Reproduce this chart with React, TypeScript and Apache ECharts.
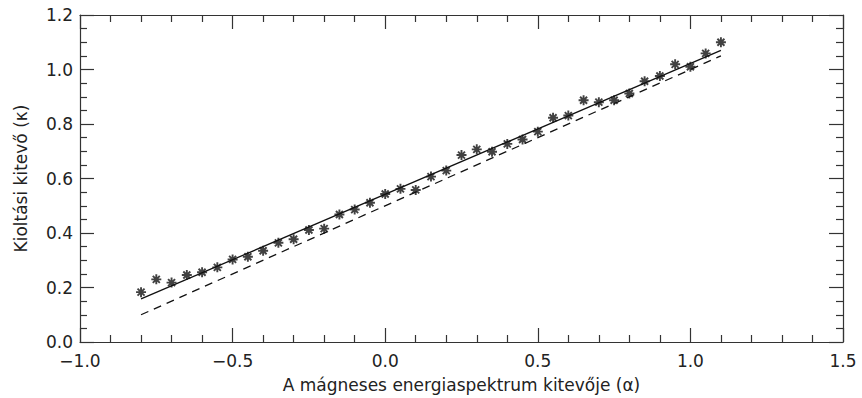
import React, { useEffect, useRef } from "react";
import * as echarts from "echarts";

const alphaValues = [
  -0.8, -0.75, -0.7, -0.65, -0.6, -0.55, -0.5, -0.45, -0.4, -0.35, -0.3, -0.25, -0.2,
  -0.15, -0.1, -0.05, 0.0, 0.05, 0.1, 0.15, 0.2, 0.25, 0.3, 0.35, 0.4, 0.45, 0.5,
  0.55, 0.6, 0.65, 0.7, 0.75, 0.8, 0.85, 0.9, 0.95, 1.0, 1.05, 1.1,
];
const kappaValues = [
  0.183, 0.23, 0.218, 0.246, 0.256, 0.274, 0.303, 0.313, 0.335, 0.364, 0.377, 0.411, 0.416,
  0.468, 0.486, 0.511, 0.543, 0.562, 0.558, 0.607, 0.629, 0.686, 0.707, 0.698, 0.727, 0.743, 0.772,
  0.823, 0.831, 0.887, 0.88, 0.887, 0.912, 0.957, 0.976, 1.019, 1.01, 1.059, 1.1,
];
const fitLineX = [-0.8, 1.1];
const fitLineY = [0.158, 1.07];
const theoryLineX = [-0.8, 1.1];
const theoryLineY = [0.1, 1.05];

const xTitle = "A mágneses energiaspektrum kitevője (α)";
const yTitle = "Kioltási kitevő (κ)";

const FONT = "DejaVu Sans";
const TEXT = "#222";
const AX = "#333";

const starPath =
  "path://M5,0L5,10M0,5L10,5M1.5,1.5L8.5,8.5M1.5,8.5L8.5,1.5";

export default function App() {
  const ref = useRef<HTMLDivElement>(null);
  useEffect(() => {
    if (!ref.current) return;
    const chart = echarts.init(ref.current, undefined, { renderer: "svg" });
    const tickStyle = { color: AX, width: 1.2 };
    const axisCommon = {
      axisLine: { show: true, onZero: false, lineStyle: { color: AX, width: 1.2 } },
      splitLine: { show: false },
      axisTick: { show: true, inside: true, length: 14, lineStyle: tickStyle },
    };
    chart.setOption({
      animation: false,
      backgroundColor: "#fff",
      grid: { left: 80, right: 19, top: 15, bottom: 56 },
      xAxis: [
        {
          type: "value",
          min: -1,
          max: 1.5,
          interval: 0.5,
          position: "bottom",
          ...axisCommon,
          minorTick: { show: true, splitNumber: 5, length: 7, lineStyle: tickStyle },
          axisLabel: {
            color: TEXT,
            fontFamily: FONT,
            fontSize: 17,
            margin: 10,
            formatter: (v: number) => (v < 0 ? "\u2212" + Math.abs(v).toFixed(1) : v.toFixed(1)),
          },
          name: xTitle,
          nameLocation: "middle",
          nameGap: 34,
          nameTextStyle: { color: TEXT, fontFamily: FONT, fontSize: 17 },
        },
        {
          type: "value",
          min: -1,
          max: 1.5,
          interval: 0.5,
          position: "top",
          ...axisCommon,
          minorTick: { show: true, splitNumber: 5, length: 7, lineStyle: tickStyle },
          axisLabel: { show: false },
        },
      ],
      yAxis: [
        {
          type: "value",
          min: 0,
          max: 1.2,
          interval: 0.2,
          position: "left",
          ...axisCommon,
          minorTick: { show: true, splitNumber: 4, length: 7, lineStyle: tickStyle },
          axisLabel: {
            color: TEXT,
            fontFamily: FONT,
            fontSize: 17,
            margin: 7,
            formatter: (v: number) => v.toFixed(1),
          },
          name: yTitle,
          nameLocation: "middle",
          nameGap: 51,
          nameTextStyle: { color: TEXT, fontFamily: FONT, fontSize: 17 },
        },
        {
          type: "value",
          min: 0,
          max: 1.2,
          interval: 0.2,
          position: "right",
          ...axisCommon,
          minorTick: { show: true, splitNumber: 4, length: 7, lineStyle: tickStyle },
          axisLabel: { show: false },
        },
      ],
      series: [
        {
          type: "line",
          name: "fit",
          data: fitLineX.map((x, i) => [x, fitLineY[i]]),
          symbol: "none",
          lineStyle: { color: "#111", width: 1.3 },
          z: 2,
        },
        {
          type: "line",
          name: "theory",
          data: theoryLineX.map((x, i) => [x, theoryLineY[i]]),
          symbol: "none",
          lineStyle: { color: "#111", width: 1.3, type: [8, 6] },
          z: 2,
        },
        {
          type: "scatter",
          name: "data",
          data: alphaValues.map((x, i) => [x, kappaValues[i]]),
          symbol: starPath,
          symbolSize: 10,
          itemStyle: { color: "rgba(0,0,0,0)", borderColor: "#111", borderWidth: 1.9 },
          z: 3,
        },
      ],
    });
    return () => chart.dispose();
  }, []);
  return <div ref={ref} style={{ width: 862, height: 398, position: "absolute", left: 0, top: 0 }} />;
}
